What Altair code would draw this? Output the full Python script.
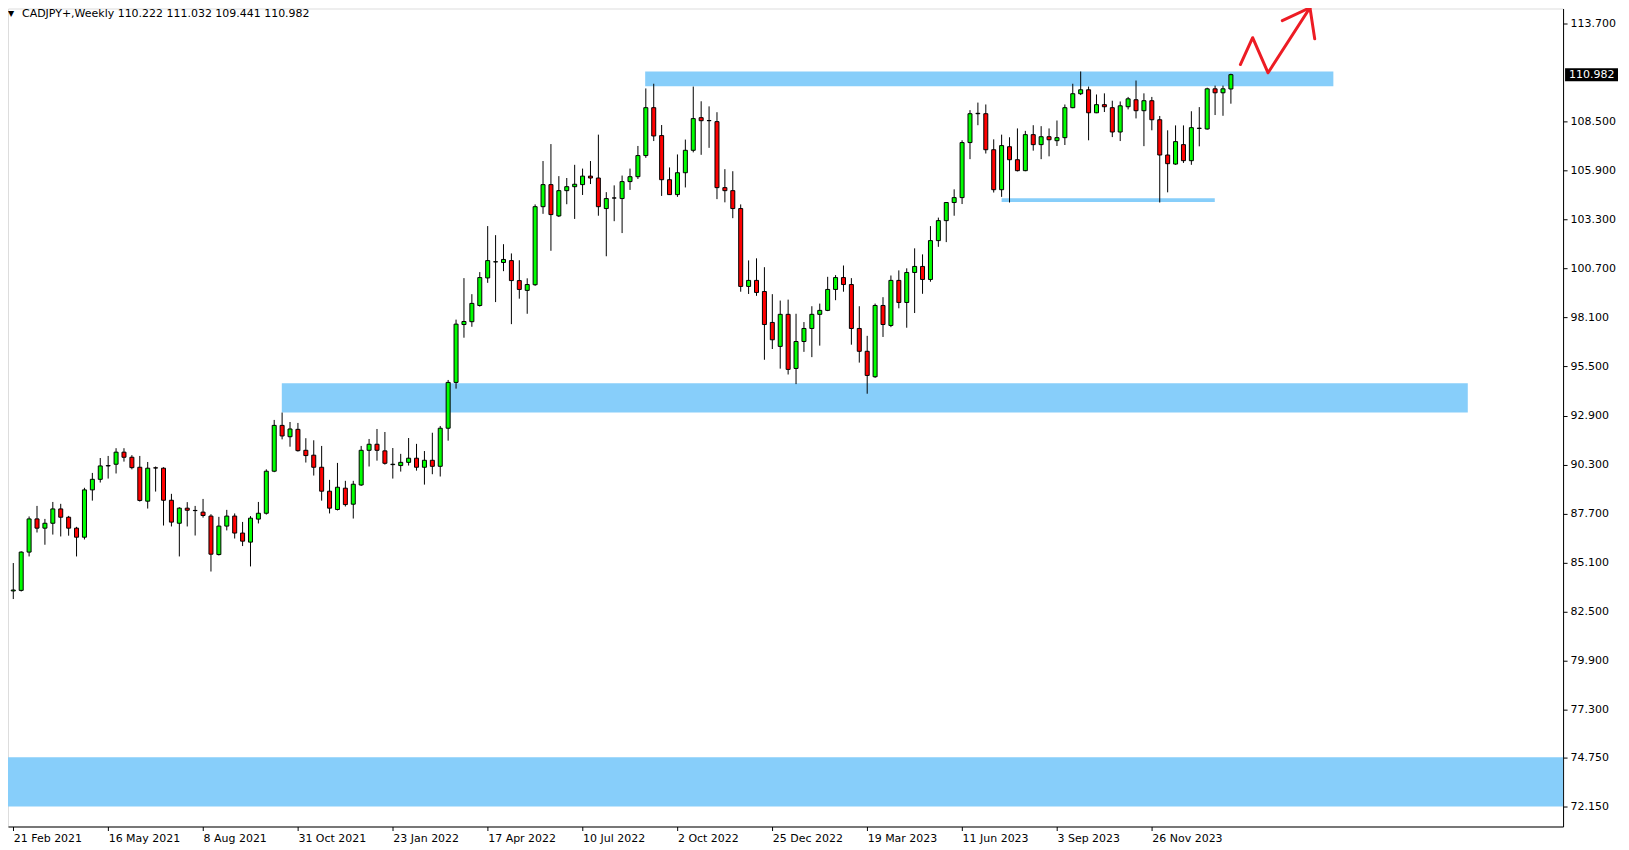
import altair as alt
import pandas as pd

# ---------------- data ----------------
date_labels = ["21 Feb 2021", "16 May 2021", "8 Aug 2021", "31 Oct 2021", "23 Jan 2022",
               "17 Apr 2022", "10 Jul 2022", "2 Oct 2022", "25 Dec 2022", "19 Mar 2023",
               "11 Jun 2023", "3 Sep 2023", "26 Nov 2023"]
tick_weeks = [0, 12, 24, 36, 48, 60, 72, 84, 96, 108, 120, 132, 144]

price_ticks = [72.15, 74.75, 77.3, 79.9, 82.5, 85.1, 87.7, 90.3, 92.9, 95.5, 98.1,
               100.7, 103.3, 105.9, 108.5, 113.7]

opens = [83.60, 83.63, 85.66, 87.42, 86.93, 87.19, 87.95, 87.51, 86.93, 86.45,
         88.96, 89.52, 90.23, 90.32, 90.96, 90.69, 90.16, 88.36, 90.13, 90.11,
         88.41, 87.19, 87.99, 87.87, 87.78, 87.57, 85.53, 87.04, 87.57, 86.67,
         86.19, 87.41, 87.72, 89.95, 92.38, 91.78, 92.17, 91.06, 90.80, 90.16,
         88.89, 87.92, 89.05, 88.20, 89.22, 91.06, 91.38, 91.03, 90.30, 90.25,
         90.42, 90.64, 90.16, 90.53, 90.21, 92.23, 94.66, 97.73, 97.88, 98.74,
         100.20, 101.05, 101.02, 101.12, 100.06, 99.54, 99.84, 103.98, 105.15, 103.49,
         104.83, 105.04, 105.15, 105.60, 105.50, 103.88, 104.44, 104.41, 105.31, 105.57,
         106.69, 109.23, 107.75, 105.41, 104.62, 105.78, 106.97, 108.70, 108.54, 108.49,
         104.99, 104.83, 103.88, 99.75, 100.07, 99.48, 97.84, 96.57, 98.27, 95.40,
         96.83, 97.52, 98.27, 98.48, 99.59, 100.22, 99.85, 97.52, 96.31, 94.96,
         98.74, 97.68, 100.07, 98.90, 100.49, 100.81, 100.12, 102.18, 103.24, 104.20,
         104.46, 107.38, 108.91, 108.91, 107.00, 104.88, 107.16, 106.47, 105.89, 107.80,
         107.27, 107.69, 107.48, 107.64, 109.23, 109.97, 110.18, 108.96, 109.39, 109.23,
         107.94, 109.28, 109.65, 109.07, 109.60, 108.59, 106.72, 106.24, 107.27, 106.42,
         108.13, 108.10, 110.23, 110.02, 110.222]
highs = [85.08, 85.70, 87.55, 88.11, 87.42, 88.32, 88.22, 87.58, 87.00, 89.07,
         89.86, 90.65, 90.76, 91.17, 91.17, 90.80, 90.76, 90.44, 90.20, 90.16,
         88.75, 88.04, 88.31, 88.11, 88.48, 87.67, 87.53, 87.90, 87.71, 87.26,
         87.57, 88.32, 90.05, 92.67, 93.06, 92.56, 92.51, 91.70, 91.59, 91.29,
         89.49, 90.39, 89.44, 89.44, 91.29, 91.66, 92.19, 92.03, 91.18, 90.87,
         91.71, 91.40, 91.02, 91.99, 92.35, 94.79, 97.99, 100.19, 99.34, 100.51,
         102.95, 102.47, 101.99, 101.50, 101.14, 100.18, 104.10, 106.40, 107.30, 105.60,
         105.50, 106.20, 106.00, 106.40, 107.80, 104.75, 105.11, 105.63, 106.00, 107.20,
         110.25, 110.50, 108.31, 106.06, 106.75, 107.54, 110.35, 109.57, 109.30, 108.99,
         105.97, 105.86, 104.10, 101.13, 101.24, 100.77, 99.34, 99.00, 99.05, 98.30,
         97.86, 98.70, 98.84, 100.26, 100.35, 100.86, 100.19, 98.70, 97.13, 98.84,
         99.18, 100.33, 100.60, 100.71, 101.77, 101.45, 102.95, 103.40, 104.22, 104.90,
         107.50, 109.10, 109.50, 109.40, 107.55, 107.80, 107.66, 108.13, 108.00, 108.30,
         108.25, 108.13, 108.55, 109.40, 110.50, 111.15, 110.35, 109.93, 109.99, 109.60,
         109.56, 109.80, 110.67, 109.99, 109.80, 108.79, 108.03, 108.29, 108.29, 109.04,
         109.26, 110.29, 110.40, 110.40, 111.032]
lows = [83.17, 83.57, 85.43, 86.70, 86.05, 86.59, 86.49, 86.53, 85.43, 86.33,
        88.39, 89.35, 89.56, 89.83, 90.46, 90.05, 88.34, 87.97, 88.87, 87.07,
        87.02, 85.43, 87.02, 86.54, 87.49, 84.63, 85.48, 86.81, 86.38, 85.98,
        84.90, 87.18, 87.65, 89.90, 91.64, 91.25, 90.99, 90.41, 89.72, 88.39,
        87.71, 87.87, 88.08, 87.44, 89.17, 90.20, 90.51, 90.30, 89.56, 89.93,
        90.25, 89.98, 89.24, 89.79, 89.67, 91.57, 94.33, 97.03, 97.61, 98.68,
        99.94, 98.92, 100.56, 97.75, 99.10, 98.30, 99.78, 103.60, 101.64, 103.43,
        104.11, 103.33, 104.60, 105.18, 103.50, 101.35, 103.21, 102.58, 104.87, 105.45,
        106.57, 107.46, 104.55, 104.60, 104.50, 105.00, 106.86, 106.73, 107.10, 104.38,
        104.21, 103.37, 99.47, 99.35, 99.25, 95.86, 96.43, 95.39, 95.08, 94.57,
        96.28, 96.00, 96.61, 98.44, 99.02, 99.47, 96.66, 95.71, 94.06, 94.90,
        97.07, 97.59, 98.59, 97.56, 98.34, 99.36, 100.00, 101.85, 102.10, 103.50,
        104.12, 106.50, 108.30, 106.80, 104.73, 104.50, 104.20, 105.85, 105.86, 106.95,
        106.50, 106.65, 107.20, 107.25, 109.20, 109.90, 107.50, 108.94, 109.00, 107.67,
        107.46, 109.14, 108.66, 107.19, 108.03, 104.20, 104.74, 106.20, 106.30, 106.20,
        107.18, 108.07, 108.84, 108.80, 109.441]
closes = [83.65, 85.66, 87.42, 86.93, 87.19, 87.95, 87.51, 86.93, 86.45, 88.96,
          89.52, 90.23, 90.25, 90.96, 90.69, 90.14, 88.40, 90.11, 90.12, 88.41,
          87.25, 87.99, 87.88, 87.86, 87.60, 85.55, 87.04, 87.57, 86.67, 86.24,
          87.46, 87.72, 89.95, 92.38, 91.82, 92.19, 91.04, 90.78, 90.16, 88.89,
          87.99, 89.10, 88.18, 89.26, 91.06, 91.38, 91.06, 90.37, 90.32, 90.42,
          90.64, 90.16, 90.53, 90.21, 92.23, 94.66, 97.75, 97.89, 98.85, 100.22,
          101.12, 101.06, 101.18, 100.06, 99.59, 99.85, 103.98, 105.15, 103.56, 104.83,
          105.04, 105.17, 105.60, 105.50, 103.98, 104.41, 104.44, 105.31, 105.57, 106.69,
          109.23, 107.73, 105.41, 104.62, 105.78, 106.97, 108.65, 108.54, 108.55, 104.99,
          104.83, 103.88, 99.75, 100.07, 99.43, 97.73, 96.92, 98.27, 95.35, 96.83,
          97.52, 98.27, 98.48, 99.59, 100.22, 99.85, 97.52, 96.31, 95.03, 98.74,
          97.73, 100.07, 98.90, 100.49, 100.81, 100.12, 102.18, 103.24, 104.20, 104.46,
          107.38, 108.91, 108.93, 107.00, 104.88, 107.22, 106.47, 105.89, 107.80, 107.27,
          107.69, 107.53, 107.64, 109.23, 109.97, 110.18, 108.96, 109.39, 109.28, 107.94,
          109.33, 109.70, 109.07, 109.60, 108.59, 106.72, 106.26, 107.43, 106.42, 108.17,
          108.14, 110.23, 110.02, 110.23, 110.982]

# support / resistance zones (week index range, price range)
zone_x0 = [-5, 33.96, 79.92, 125.0]
zone_x1 = [205, 183.96, 166.96, 151.96]
zone_lo = [72.17, 93.06, 110.36, 104.23]
zone_hi = [74.78, 94.62, 111.15, 104.43]

# hand-drawn red arrow (week index, price)
arrow_x = [155.2, 156.75, 158.7, 164.0, 160.5, 164.0, 164.6]
arrow_y = [111.52, 112.94, 111.08, 114.53, 113.85, 114.53, 112.88]
arrow_seg = [0, 0, 0, 0, 1, 1, 1]

header = "CADJPY+,Weekly  110.222 111.032 109.441 110.982"

# ---------------- layout ----------------
W = 1557
H = 819
FONT = "DejaVu Sans"
PX_PER_WEEK = 1227.0 / 154.0
X0 = -0.3 / PX_PER_WEEK

df = pd.DataFrame({
    "idx": list(range(len(opens))),
    "open": opens, "high": highs, "low": lows, "close": closes,
})
df["dir"] = ["up" if c >= o else "down" for o, c in zip(opens, closes)]

zones = pd.DataFrame({"x0": zone_x0, "x1": zone_x1, "lo": zone_lo, "hi": zone_hi})
arrow = pd.DataFrame({"x": arrow_x, "y": arrow_y, "seg": arrow_seg,
                      "ord": list(range(len(arrow_x)))})
last = pd.DataFrame({"p": [closes[-1]], "t": [f"{closes[-1]:.3f}"]})
head = pd.DataFrame({"t": [header], "tri": ["\u25bc"]})

label_list = "[" + ",".join(f"'{d}'" for d in date_labels) + "]"

xscale = alt.Scale(domain=[X0, X0 + W / PX_PER_WEEK], nice=False, zero=False)
yscale = alt.Scale(domain=[71.107, 114.489], nice=False, zero=False)

x_axis = alt.Axis(values=tick_weeks, labelExpr=f"{label_list}[round(datum.value/12)]",
                  title=None, grid=False, orient="bottom", domainColor="black",
                  tickColor="black", labelColor="black", labelFont=FONT, labelFontSize=11,
                  labelAlign="left", labelBaseline="top", tickSize=4, labelPadding=2,
                  labelFlush=False, labelOverlap=False, domainWidth=1)
y_axis = alt.Axis(values=price_ticks, format=".3f", title=None, grid=False, orient="right",
                  domainColor="black", tickColor="black", labelColor="black",
                  labelFont=FONT, labelFontSize=11, labelAlign="left",
                  labelBaseline="middle", tickSize=4, labelPadding=3,
                  labelFlush=False, labelOverlap=False, domainWidth=1)

X = alt.X("idx:Q", scale=xscale, axis=x_axis)

zone_layer = alt.Chart(zones).mark_rect(color="#87CEFA", clip=True).encode(
    x=alt.X("x0:Q", scale=xscale, axis=x_axis), x2="x1:Q",
    y=alt.Y("lo:Q", scale=yscale, axis=y_axis), y2="hi:Q")

wick_layer = alt.Chart(df).mark_rule(color="black", strokeWidth=1).encode(
    x=X, y=alt.Y("low:Q", scale=yscale, axis=y_axis), y2="high:Q")

body_layer = alt.Chart(df).mark_bar(size=4, stroke="black", strokeWidth=1).encode(
    x=X, y=alt.Y("open:Q", scale=yscale, axis=y_axis), y2="close:Q",
    color=alt.Color("dir:N", scale=alt.Scale(domain=["up", "down"],
                                             range=["#00FF00", "#FF0000"]), legend=None))

arrow_layer = alt.Chart(arrow).mark_line(color="#ED1C24", strokeWidth=3,
                                         strokeCap="round", strokeJoin="round").encode(
    x=alt.X("x:Q", scale=xscale, axis=x_axis), y=alt.Y("y:Q", scale=yscale, axis=y_axis),
    detail="seg:N", order="ord:Q")

price_box = alt.Chart(last).mark_rule(color="black", strokeWidth=13).encode(
    x=alt.value(W + 2), x2=alt.value(W + 55), y=alt.Y("p:Q", scale=yscale, axis=y_axis))
price_txt = alt.Chart(last).mark_text(color="white", font=FONT, fontSize=11,
                                      align="left", baseline="middle").encode(
    x=alt.value(W + 6), y=alt.Y("p:Q", scale=yscale, axis=y_axis), text="t:N")

head_txt = alt.Chart(head).mark_text(color="black", font=FONT, fontSize=11,
                                     align="left", baseline="middle").encode(
    x=alt.value(14), y=alt.value(5), text="t:N")
head_tri = alt.Chart(head).mark_text(color="black", font=FONT, fontSize=8,
                                     align="left", baseline="middle").encode(
    x=alt.value(0), y=alt.value(5), text="tri:N")

chart = alt.layer(zone_layer, wick_layer, body_layer, arrow_layer, price_box, price_txt,
                  head_txt, head_tri).properties(
    width=W, height=H,
    autosize=alt.AutoSizeParams(type="none"),
    padding={"left": 0, "top": 0, "right": 58, "bottom": 22},
).configure_view(stroke="black", strokeWidth=1).configure(background="white")

chart.save("out.html", embed_options={"renderer": "svg", "actions": False})
